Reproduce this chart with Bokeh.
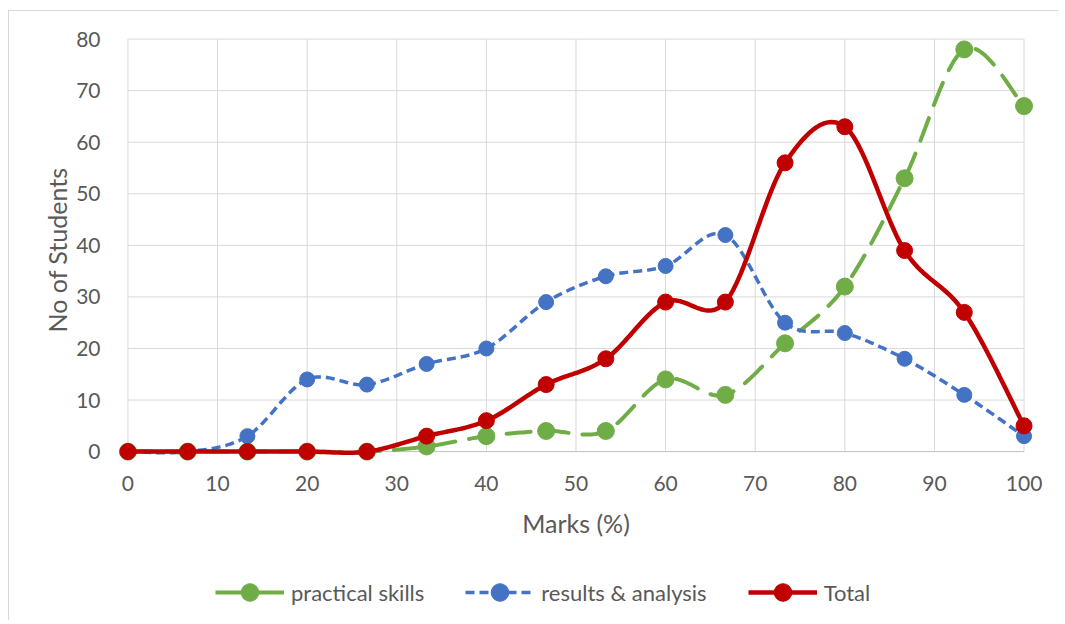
import numpy as np
from bokeh.plotting import figure
from bokeh.models import (Range1d, LinearAxis, FixedTicker, Legend, LegendItem, Title)
from bokeh.core.properties import value
from bokeh.embed import file_html
from bokeh.resources import INLINE

# ---- data ----
marks = [0, 6.67, 13.33, 20, 26.67, 33.33, 40, 46.67, 53.33, 60, 66.67,
         73.33, 80, 86.67, 93.33, 100]
practical = [0, 0, 0, 0, 0, 1, 3, 4, 4, 14, 11, 21, 32, 53, 78, 67]
results = [0, 0, 3, 14, 13, 17, 20, 29, 34, 36, 42, 25, 23, 18, 11, 3]
total = [0, 0, 0, 0, 0, 3, 6, 13, 18, 29, 29, 56, 63, 39, 27, 5]
x_ticks = [0, 10, 20, 30, 40, 50, 60, 70, 80, 90, 100]
y_ticks = [0, 10, 20, 30, 40, 50, 60, 70, 80]
x_title = "Marks (%)"
y_title = "No of Students"

GREEN = "#70AD47"
BLUE = "#4472C4"
RED = "#C00000"
TXT = "#595959"
GRID = "#D9D9D9"
FONT = "Lato"


def smooth(xs, ys, n=24):
    P = np.column_stack([xs, ys]).astype(float)
    ox, oy = [], []
    m = len(P)
    for i in range(m - 1):
        p0 = P[i - 1] if i > 0 else P[i]
        p1 = P[i]
        p2 = P[i + 1]
        p3 = P[i + 2] if i + 2 < m else P[i + 1]
        c1 = p1 + (p2 - p0) / 6.0
        c2 = p2 - (p3 - p1) / 6.0
        t = np.linspace(0, 1, n)[:, None]
        b = ((1 - t) ** 3) * p1 + 3 * ((1 - t) ** 2) * t * c1 + 3 * (1 - t) * t ** 2 * c2 + t ** 3 * p2
        if i > 0:
            b = b[1:]
        ox.extend(b[:, 0].tolist())
        oy.extend(b[:, 1].tolist())
    return ox, oy


p = figure(frame_width=934, frame_height=584,
           min_border_left=114, min_border_top=36, min_border_right=10, min_border_bottom=0,
           x_range=Range1d(-1.5, 102.73), y_range=Range1d(-32.75, 80.5),
           output_backend="svg", toolbar_location=None,
           x_axis_type=None, y_axis_type=None)
p.outline_line_color = None
p.xgrid.visible = False
p.ygrid.visible = False
p.background_fill_color = "white"
p.border_fill_color = None
# thin light-grey chart-area border (left and top edges)
p.styles = {"background": "linear-gradient(#D9D9D9,#D9D9D9) 8px 10px / 1px 100% no-repeat, "
                          "linear-gradient(#D9D9D9,#D9D9D9) 8px 10px / 100% 1px no-repeat, white"}

# gridlines
p.segment(x0=x_ticks, x1=x_ticks, y0=[0] * len(x_ticks), y1=[80] * len(x_ticks),
          line_color=GRID, line_width=1)
yg = y_ticks[1:]
p.segment(x0=[0] * len(yg), x1=[100] * len(yg), y0=yg, y1=yg, line_color=GRID, line_width=1)
p.segment(x0=[0], x1=[100], y0=[0], y1=[0], line_color="#BFBFBF", line_width=1)

# axes
xaxis = LinearAxis(ticker=FixedTicker(ticks=x_ticks), fixed_location=0)
yaxis = LinearAxis(ticker=FixedTicker(ticks=y_ticks))
for ax in (xaxis, yaxis):
    ax.axis_line_color = None
    ax.major_tick_line_color = None
    ax.minor_tick_line_color = None
    ax.major_label_text_color = TXT
    ax.major_label_text_font = FONT
    ax.major_label_text_font_size = "21px"
xaxis.major_label_standoff = 18
yaxis.major_label_standoff = 8
p.add_layout(xaxis, "below")
p.add_layout(yaxis, "left")

# y axis title (placed along the 0-80 span)
ytitle = Title(text=y_title, align="right", offset=131, standoff=4,
               text_font=FONT, text_font_size="25px", text_color=TXT,
               text_font_style="normal")
p.add_layout(ytitle, "left")

# x axis title, centred under the 0-100 span
p.text(x=[(x_ticks[0] + x_ticks[-1]) / 2], y=[-13.8], text=[x_title],
       text_font=value(FONT), text_font_size="25px", text_color=TXT,
       text_align="center", text_baseline="middle")

# series
gx, gy = smooth(marks, practical)
bx, by = smooth(marks, results)
rx, ry = smooth(marks, total)

g_line = p.line(gx, gy, line_color=GREEN, line_width=4, line_dash="24 14", line_cap="round")
g_pts = p.scatter(marks, practical, size=17, fill_color=GREEN, line_color=GREEN)
b_line = p.line(bx, by, line_color=BLUE, line_width=3.5, line_dash="9 5")
b_pts = p.scatter(marks, results, size=15, fill_color=BLUE, line_color=BLUE)
r_line = p.line(rx, ry, line_color=RED, line_width=4.5)
r_pts = p.scatter(marks, total, size=16, fill_color=RED, line_color=RED)

# legend-only solid green line (draws nothing in the plot)
g_leg = p.line(x=[0, 0], y=[float("nan"), float("nan")], line_color=GREEN, line_width=4)

legend = Legend(items=[
    LegendItem(label="practical skills", renderers=[g_leg, g_pts]),
    LegendItem(label="results & analysis", renderers=[b_line, b_pts]),
    LegendItem(label="Total", renderers=[r_line, r_pts]),
], orientation="horizontal", location=(101, 6))
legend.border_line_color = None
legend.background_fill_alpha = 0
legend.label_text_font = FONT
legend.label_text_font_size = "22px"
legend.label_text_color = TXT
legend.glyph_width = 69
legend.glyph_height = 44
legend.label_standoff = 7
legend.spacing = 41
legend.margin = 0
legend.padding = 0
p.add_layout(legend, "center")

open("out.html", "w").write(file_html(p, INLINE))
